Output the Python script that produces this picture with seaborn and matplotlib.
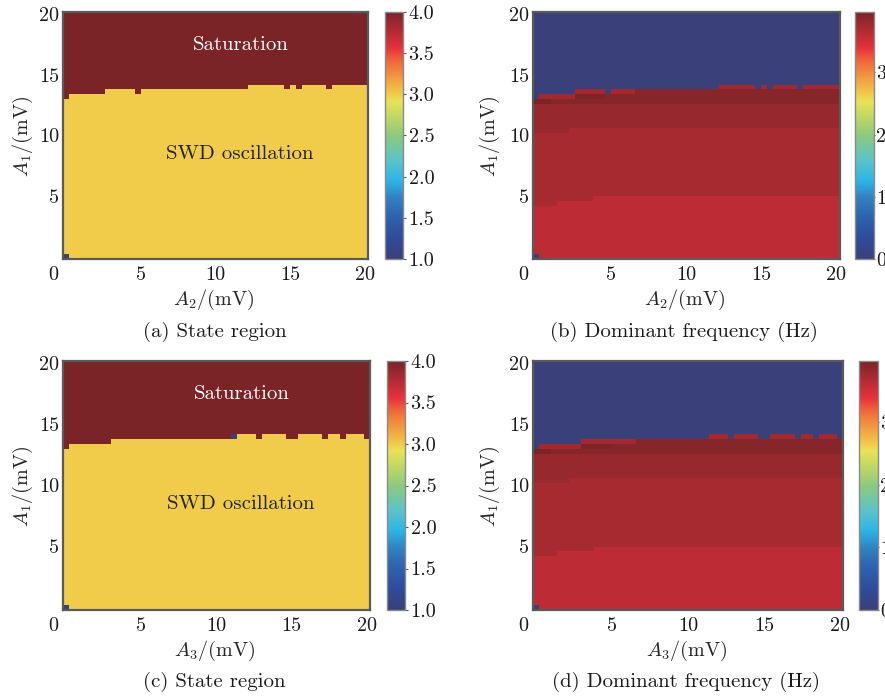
import numpy as np
import pandas as pd
import matplotlib
matplotlib.use("Agg")
import matplotlib.pyplot as plt
import seaborn as sns
from matplotlib.colors import LinearSegmentedColormap
from matplotlib.transforms import ScaledTranslation

sns.set_style("white")
plt.rcParams.update({
    "font.family": "serif",
    "font.serif": ["cmr10", "DejaVu Serif"],
    "mathtext.fontset": "cm",
    "axes.unicode_minus": False,
    "axes.formatter.use_mathtext": True,
})

# ---------------- data ----------------
# grid of both amplitudes (mV), 51 samples from 0 to 20
A_grid = np.linspace(0, 20, 51)

# top A1 value still in the SWD state, one per column (A2 or A3)
top_a = [12.8,
         13.2, 13.2, 13.2, 13.2, 13.2, 13.2,
         13.6, 13.6, 13.6, 13.6, 13.6,
         13.2,
         13.6, 13.6, 13.6, 13.6, 13.6, 13.6, 13.6, 13.6, 13.6,
         13.6, 13.6, 13.6, 13.6, 13.6, 13.6, 13.6, 13.6, 13.6,
         14.0, 14.0, 14.0, 14.0, 14.0, 14.0,
         13.6, 14.0, 13.6,
         14.0, 14.0, 14.0, 14.0,
         13.6,
         14.0, 14.0, 14.0, 14.0, 14.0, 14.0]

top_c = [12.8,
         13.2, 13.2, 13.2, 13.2, 13.2, 13.2, 13.2,
         13.6, 13.6, 13.6, 13.6, 13.6, 13.6, 13.6, 13.6, 13.6, 13.6,
         13.6, 13.6, 13.6, 13.6, 13.6, 13.6, 13.6, 13.6, 13.6, 13.6,
         13.6,
         14.0, 14.0, 14.0,
         13.6,
         14.0, 14.0, 14.0, 14.0,
         13.6, 13.6,
         14.0, 14.0, 14.0, 14.0,
         13.6,
         14.0, 14.0,
         13.6,
         14.0, 14.0, 14.0,
         13.6]

# state codes: 1 = rest, 3 = SWD oscillation, 4 = saturation
state_swd, state_sat, state_rest = 3.0, 4.0, 1.0
rest_cells_a = [(0.0, 0.0)]
rest_cells_c = [(0.0, 0.0), (11.2, 14.0)]

# dominant frequency bands (Hz) inside the SWD region
f_low, f_mid, f_up, f_top, f_edge, f_peak, f_dark = 3.60, 3.72, 3.80, 3.90, 3.74, 3.97, 3.95
low_top = [4.0, 4.0, 4.0, 4.0, 4.4, 4.4, 4.4, 4.4, 4.4, 4.4] + [4.8] * 41
mid_top = [10.0] * 6 + [10.4] * 45
up_top = [12.4] * 51

# frequency of the top SWD cell of each column
edge_b = ([f_peak] + [f_edge] * 6 + [f_edge] * 5 + [f_top] + [f_edge] * 4 + [f_top] * 14 +
          [f_edge] * 6 + [f_top, f_edge, f_top] + [f_edge] * 4 + [f_top] + [f_edge] * 6)
edge_d = ([f_peak] + [f_edge] * 7 + [f_edge] * 9 + [f_top] * 11 + [f_top] + [f_edge] * 3 + [f_top] +
          [f_edge] * 4 + [f_top] * 2 + [f_edge] * 4 + [f_top] + [f_edge] * 2 + [f_top] + [f_edge] * 3 + [f_top])
dark_b = [(0.4, 12.8, f_peak), (0.8, 12.8, f_peak), (2.8, 13.2, f_dark), (3.2, 13.2, f_dark),
          (3.6, 13.2, f_dark), (4.0, 13.2, f_dark), (4.4, 13.2, f_dark)]
dark_d = [(0.4, 12.8, f_peak), (0.8, 12.8, f_peak), (3.2, 13.2, f_dark), (3.6, 13.2, f_dark),
          (4.0, 13.2, f_dark), (4.4, 13.2, f_dark), (4.8, 13.2, f_dark)]
zero_d = [(0.0, 0.0), (11.2, 14.0)]
zero_b = [(0.0, 0.0)]

cbar_state_ticks = [1.0, 1.5, 2.0, 2.5, 3.0, 3.5, 4.0]
cbar_freq_ticks = [0, 1, 2, 3]
axis_ticks = [0, 5, 10, 15, 20]
captions = ["(a) State region", "(b) Dominant frequency (Hz)",
            "(c) State region", "(d) Dominant frequency (Hz)"]
xlabels = [r"$A_2/(\mathrm{mV})$", r"$A_2/(\mathrm{mV})$",
           r"$A_3/(\mathrm{mV})$", r"$A_3/(\mathrm{mV})$"]
ylabel = r"$A_1/(\mathrm{mV})$"


def idx(v):
    return int(round(v / 0.4))


def state_matrix(top, rest_cells):
    Y = A_grid[:, None]
    T = np.array(top)[None, :]
    S = np.where(Y <= T + 1e-9, state_swd, state_sat)
    for (x, y) in rest_cells:
        S[idx(y), idx(x)] = state_rest
    return pd.DataFrame(S, index=A_grid, columns=A_grid)


def freq_matrix(top, edge, dark, zeros):
    Y = A_grid[:, None]
    T = np.array(top)[None, :]
    F = np.where(Y <= np.array(low_top)[None, :] + 1e-9, f_low,
                 np.where(Y <= np.array(mid_top)[None, :] + 1e-9, f_mid,
                          np.where(Y <= np.array(up_top)[None, :] + 1e-9, f_up, f_top)))
    F = np.where(Y <= T + 1e-9, F, 0.0)
    for j, t in enumerate(top):
        F[idx(t), j] = edge[j]
    for (x, y, v) in dark:
        F[idx(y), idx(x)] = v
    for (x, y) in zeros:
        F[idx(y), idx(x)] = 0.0
    return pd.DataFrame(F, index=A_grid, columns=A_grid)


cmap = LinearSegmentedColormap.from_list("muted_jet", [
    (0.000, "#3a4079"),
    (0.080, "#2f4a9a"),
    (0.170, "#2e62ad"),
    (0.250, "#3182c2"),
    (0.320, "#2db6e6"),
    (0.400, "#5cc3c9"),
    (0.500, "#8dc97c"),
    (0.600, "#cfdc5e"),
    (0.640, "#e9e257"),
    (0.667, "#f1cc4b"),
    (0.740, "#f2953f"),
    (0.800, "#ef6a3b"),
    (0.850, "#e8333b"),
    (0.900, "#c42d36"),
    (1.000, "#7a2428"),
])

W, H = 885, 698
fig = plt.figure(figsize=(W / 100, H / 100), dpi=100)


def rect(l, t, r, b):
    return [l / W, 1 - b / H, (r - l) / W, (b - t) / H]


panels = [
    dict(ax=(62.7, 11.7, 368.3, 259.3), cb=(385, 11.7, 403, 259.3), cap=(214.5, 331.7),
         data=state_matrix(top_a, rest_cells_a), kind="state", ylx=-0.129),
    dict(ax=(532.7, 11.7, 839.5, 259.3), cb=(855, 11.7, 874, 259.3), cap=(684, 331.7),
         data=freq_matrix(top_a, edge_b, dark_b, zero_b), kind="freq", ylx=-0.139),
    dict(ax=(62.7, 361, 370, 610), cb=(387, 361, 405, 610), cap=(214.3, 681.7),
         data=state_matrix(top_c, rest_cells_c), kind="state", ylx=-0.129),
    dict(ax=(532.7, 361, 843.3, 610), cb=(859.3, 361, 878.3, 610), cap=(686.3, 681.7),
         data=freq_matrix(top_c, edge_d, dark_d, zero_d), kind="freq", ylx=-0.139),
]

fs = 14.5
frame_c = "#5a5a5a"
for k, p in enumerate(panels):
    ax = fig.add_axes(rect(*p["ax"]))
    cax = fig.add_axes(rect(*p["cb"]))
    if p["kind"] == "state":
        sns.heatmap(p["data"], ax=ax, cbar_ax=cax, cmap=cmap, vmin=1, vmax=4,
                    xticklabels=False, yticklabels=False,
                    cbar_kws={"ticks": cbar_state_ticks, "format": "%.1f"})
    else:
        sns.heatmap(p["data"], ax=ax, cbar_ax=cax, cmap=cmap, vmin=0,
                    vmax=float(p["data"].values.max()),
                    xticklabels=False, yticklabels=False,
                    cbar_kws={"ticks": cbar_freq_ticks, "format": "%d"})
    ax.invert_yaxis()
    pos = [t / 0.4 + 0.5 for t in axis_ticks]
    ax.set_xticks(pos)
    ax.set_xticklabels([str(t) for t in axis_ticks], fontsize=fs)
    ax.set_yticks(pos[1:])
    ax.set_yticklabels([str(t) for t in axis_ticks[1:]], fontsize=fs, rotation=0)
    ax.tick_params(axis="both", direction="in", length=4, width=1, color=frame_c,
                   labelcolor="#1a1a1a")
    ax.tick_params(axis="x", pad=5)
    ax.tick_params(axis="y", pad=2.5)
    off = ScaledTranslation(-0.125, 0, fig.dpi_scale_trans)
    lab0 = ax.get_xticklabels()[0]
    lab0.set_transform(lab0.get_transform() + off)
    for s in ax.spines.values():
        s.set_visible(True)
        s.set_color(frame_c)
        s.set_linewidth(1.6)
    ax.set_xlabel(xlabels[k], fontsize=fs, va="center")
    ax.xaxis.set_label_coords(0.495, -0.164)
    ax.set_ylabel(ylabel, fontsize=fs, va="center")
    ax.yaxis.set_label_coords(p["ylx"], 0.495)

    cb = ax.collections[0].colorbar
    cb.outline.set_visible(True)
    cb.outline.set_linewidth(1.0)
    cb.outline.set_edgecolor("#8a8a8a")
    if p["kind"] == "state":
        cax.tick_params(labelsize=fs, length=2.5, width=0.8, color=frame_c, pad=1.5,
                        labelcolor="#1a1a1a")
    else:
        cax.tick_params(labelsize=fs, length=1.0, width=0.8, color=frame_c, pad=0.3,
                        labelcolor="#1a1a1a")

    if p["kind"] == "state":
        ax.text(0.583, 0.866, "Saturation", transform=ax.transAxes, ha="center",
                va="center", color="white", fontsize=15)
        ax.text(0.579, 0.425, "SWD oscillation", transform=ax.transAxes, ha="center",
                va="center", color="#222222", fontsize=15)

    fig.text(p["cap"][0] / W, 1 - p["cap"][1] / H, captions[k], ha="center", va="center",
             fontsize=15, color="#1a1a1a")

fig.savefig("out.png", dpi=100)
